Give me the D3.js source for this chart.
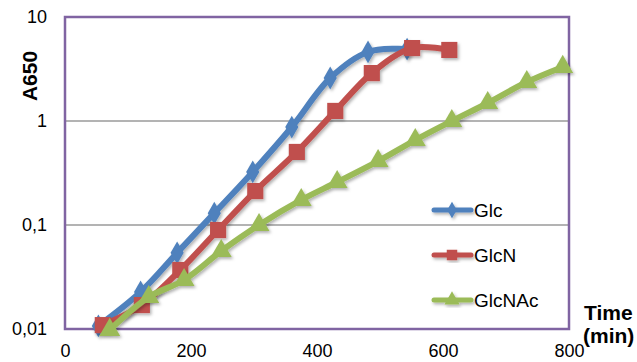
<!DOCTYPE html>
<html><head><meta charset="utf-8">
<script src="https://cdn.jsdelivr.net/npm/d3@7/dist/d3.min.js"></script>
<style>body{margin:0;background:#fff}svg{display:block;font-family:"Liberation Sans",Arial,sans-serif}</style>
</head><body>
<svg id="c" width="637" height="362"></svg>
<script>
const seriesNames = ["Glc", "GlcN", "GlcNAc"];
const glcTime = [53, 120, 178, 237, 298, 360, 421, 481, 543];
const glcA650 = [0.0107, 0.0227, 0.054, 0.13, 0.324, 0.875, 2.59, 4.61, 4.92];
const glcnTime = [60, 122, 183, 243, 302, 368, 429, 487, 551, 610];
const glcnA650 = [0.0109, 0.017, 0.0369, 0.0895, 0.212, 0.504, 1.25, 2.89, 5.03, 4.82];
const glcnacTime = [71, 133, 189, 248, 308, 375, 432, 497, 556, 614, 671, 733, 790];
const glcnacA650 = [0.0098, 0.0203, 0.0296, 0.0562, 0.1, 0.174, 0.259, 0.412, 0.656, 1.0, 1.49, 2.37, 3.31];
const xTicks = [0, 200, 400, 600, 800];
const yTicks = [0.01, 0.1, 1, 10];
const yTickLabels = ["0,01", "0,1", "1", "10"];

const colors = ["#4F81BD", "#C0504D", "#9BBB59"];
const symbols = [d3.symbolDiamond, d3.symbolSquare, d3.symbolTriangle];
const symSizes = [150, 260, 190];
const legSizes = [80, 110, 100];

const L = 65, R = 569, T = 17, B = 329;
const x = d3.scaleLinear().domain([0, 800]).range([L, R]);
const y = d3.scaleLog().domain([0.01, 10]).range([B, T]);

const svg = d3.select("#c");
const defs = svg.append("defs");
const f = defs.append("filter").attr("id", "sh").attr("x", "-20%").attr("y", "-20%").attr("width", "140%").attr("height", "140%");
f.append("feDropShadow").attr("dx", 1.5).attr("dy", 2).attr("stdDeviation", 1.5).attr("flood-color", "#000").attr("flood-opacity", 0.3);

// gridlines
svg.append("g").selectAll("line").data([0.1, 1]).join("line")
  .attr("x1", L).attr("x2", R).attr("y1", d => y(d)).attr("y2", d => y(d))
  .attr("stroke", "#9a9a9a").attr("stroke-width", 1.5);

// plot border
svg.append("rect").attr("x", L).attr("y", T).attr("width", R - L).attr("height", B - T)
  .attr("fill", "none").attr("stroke", "#8064A2").attr("stroke-width", 2.5);

// y axis labels
const yAxis = d3.axisLeft(y).tickValues(yTicks).tickFormat((d, i) => yTickLabels[i]).tickSize(0).tickPadding(0);
const gy = svg.append("g").attr("transform", `translate(47,0)`).call(yAxis);
gy.select(".domain").remove();
gy.selectAll("text").attr("font-size", 18).attr("fill", "#000").attr("font-family", "Liberation Sans, Arial, sans-serif");

// x axis labels
const xAxis = d3.axisBottom(x).tickValues(xTicks).tickFormat(d3.format("d")).tickSize(0).tickPadding(0);
const gx = svg.append("g").attr("transform", `translate(0,${B})`).call(xAxis);
gx.select(".domain").remove();
gx.selectAll("text").attr("font-size", 18).attr("fill", "#000").attr("dy", null).attr("y", 28)
  .attr("font-family", "Liberation Sans, Arial, sans-serif");

// axis titles
svg.append("text").attr("transform", "translate(37,76) rotate(-90)").attr("text-anchor", "middle")
  .attr("font-size", 21).attr("font-weight", "bold").text("A650");
svg.append("text").attr("x", 584).attr("y", 320).attr("font-size", 21).attr("font-weight", "bold").text("Time");
svg.append("text").attr("x", 583).attr("y", 343).attr("font-size", 21).attr("font-weight", "bold").text("(min)");

// series
const series = [
  glcTime.map((t, i) => [t, glcA650[i]]),
  glcnTime.map((t, i) => [t, glcnA650[i]]),
  glcnacTime.map((t, i) => [t, glcnacA650[i]])
];
const line = d3.line().x(d => x(d[0])).y(d => y(d[1])).curve(d3.curveCatmullRom.alpha(0.5));
series.forEach((data, si) => {
  const g = svg.append("g").attr("filter", "url(#sh)");
  g.append("path").datum(data).attr("d", line).attr("fill", "none")
    .attr("stroke", colors[si]).attr("stroke-width", 6).attr("stroke-linejoin", "round");
  g.selectAll("path.m").data(data).join("path").attr("class", "m")
    .attr("transform", d => `translate(${x(d[0])},${y(d[1])})`)
    .attr("d", d3.symbol().type(symbols[si]).size(symSizes[si])())
    .attr("fill", colors[si]);
});

// legend
const legY = [210, 255, 300];
seriesNames.forEach((name, i) => {
  const g = svg.append("g").attr("filter", "url(#sh)");
  g.append("line").attr("x1", 434).attr("x2", 471).attr("y1", legY[i]).attr("y2", legY[i])
    .attr("stroke", colors[i]).attr("stroke-width", 5).attr("stroke-linecap", "round");
  g.append("path").attr("transform", `translate(452,${legY[i]})`)
    .attr("d", d3.symbol().type(symbols[i]).size(legSizes[i])()).attr("fill", colors[i]);
  svg.append("text").attr("x", 474).attr("y", legY[i]).attr("dy", "0.35em")
    .attr("font-size", 19).attr("fill", "#000").text(name);
});
</script>
</body></html>
